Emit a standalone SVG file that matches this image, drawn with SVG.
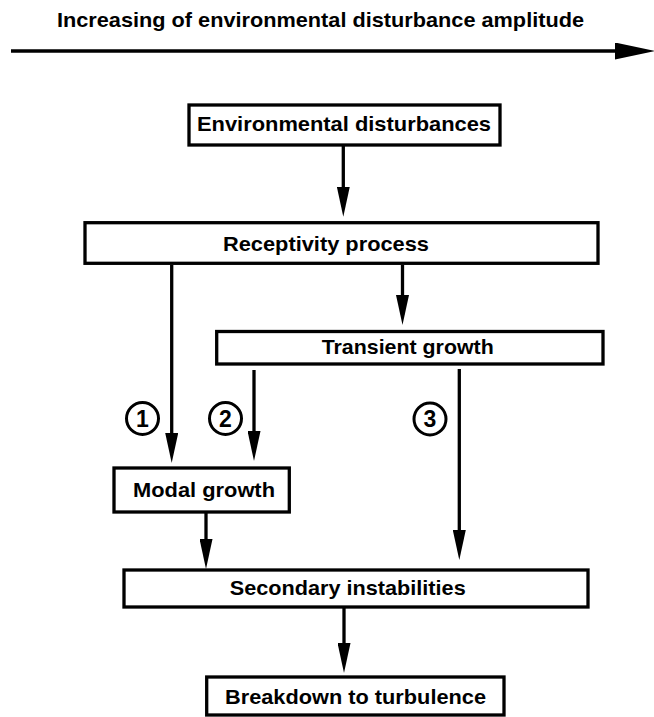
<svg xmlns="http://www.w3.org/2000/svg" width="654" height="717" viewBox="0 0 654 717">
  <style>
    .box { fill: #ffffff; stroke: #000000; stroke-width: 3.3; }
    .lbl { font-family: "Liberation Sans", Arial, Helvetica, sans-serif; font-weight: bold; font-size: 21px; fill: #000000; }
    .title { font-family: "Liberation Sans", Arial, Helvetica, sans-serif; font-weight: bold; font-size: 21px; fill: #000000; }
    .conn { fill: none; stroke: #000000; stroke-width: 3.3; }
    .circ { fill: none; stroke: #000000; stroke-width: 3; }
    .num { font-family: "Liberation Sans", Arial, Helvetica, sans-serif; font-weight: bold; font-size: 23px; fill: #000000; text-anchor: middle; }
  </style>
  <defs>
    <marker id="ah" markerUnits="userSpaceOnUse" markerWidth="30" markerHeight="13" refX="20" refY="6.5" orient="auto">
      <path d="M0,0 L30,6.5 L0,13 z" fill="#000000"/>
    </marker>
    <marker id="ahBig" markerUnits="userSpaceOnUse" markerWidth="40" markerHeight="17" refX="29" refY="8.5" orient="auto">
      <path d="M0,0 L40,8.5 L0,17 z" fill="#000000"/>
    </marker>
  </defs>
  <rect x="0" y="0" width="654" height="717" fill="#ffffff"/>

  <g id="title">
    <text class="title" x="57" y="27" textLength="527" lengthAdjust="spacingAndGlyphs">Increasing of environmental disturbance amplitude</text>
    <line class="conn" x1="11" y1="51" x2="644" y2="51" marker-end="url(#ahBig)"/>
  </g>

  <g id="connectors">
    <line class="conn" x1="343.3" y1="145" x2="343.3" y2="206.7" marker-end="url(#ah)"/>
    <line class="conn" x1="402.5" y1="265" x2="402.5" y2="315" marker-end="url(#ah)"/>
    <line class="conn" x1="171.7" y1="265" x2="171.7" y2="453" marker-end="url(#ah)"/>
    <line class="conn" x1="254" y1="370" x2="254" y2="451" marker-end="url(#ah)"/>
    <line class="conn" x1="459.3" y1="369" x2="459.3" y2="550" marker-end="url(#ah)"/>
    <line class="conn" x1="206" y1="512" x2="206" y2="559" marker-end="url(#ah)"/>
    <line class="conn" x1="344" y1="607" x2="344" y2="663" marker-end="url(#ah)"/>
  </g>

  <g id="n-env">
    <rect class="box" x="189" y="105" width="311" height="40"/>
    <text class="lbl" x="197" y="131" textLength="294" lengthAdjust="spacingAndGlyphs">Environmental disturbances</text>
  </g>

  <g id="n-receptivity">
    <rect class="box" x="85" y="222.7" width="513" height="40.6"/>
    <text class="lbl" x="223" y="251" textLength="206" lengthAdjust="spacingAndGlyphs">Receptivity process</text>
  </g>

  <g id="n-transient">
    <rect class="box" x="216.7" y="331.5" width="386.3" height="32.5"/>
    <text class="lbl" x="321.7" y="354.3" textLength="172" lengthAdjust="spacingAndGlyphs">Transient growth</text>
  </g>

  <g id="n-modal">
    <rect class="box" x="114" y="468" width="175.3" height="44"/>
    <text class="lbl" x="133" y="497" textLength="142" lengthAdjust="spacingAndGlyphs">Modal growth</text>
  </g>

  <g id="n-secondary">
    <rect class="box" x="124" y="570" width="464" height="37"/>
    <text class="lbl" x="229.7" y="595" textLength="236" lengthAdjust="spacingAndGlyphs">Secondary instabilities</text>
  </g>

  <g id="n-breakdown">
    <rect class="box" x="206.7" y="677" width="297.3" height="38"/>
    <text class="lbl" x="225" y="704" textLength="261" lengthAdjust="spacingAndGlyphs">Breakdown to turbulence</text>
  </g>

  <g id="path-labels">
    <g id="c1">
      <circle class="circ" cx="142.5" cy="418.5" r="16"/>
      <text class="num" x="142.5" y="426.5">1</text>
    </g>
    <g id="c2">
      <circle class="circ" cx="225.5" cy="418.5" r="16"/>
      <text class="num" x="225.5" y="426.5">2</text>
    </g>
    <g id="c3">
      <circle class="circ" cx="430" cy="419" r="16"/>
      <text class="num" x="430" y="427">3</text>
    </g>
  </g>
</svg>
